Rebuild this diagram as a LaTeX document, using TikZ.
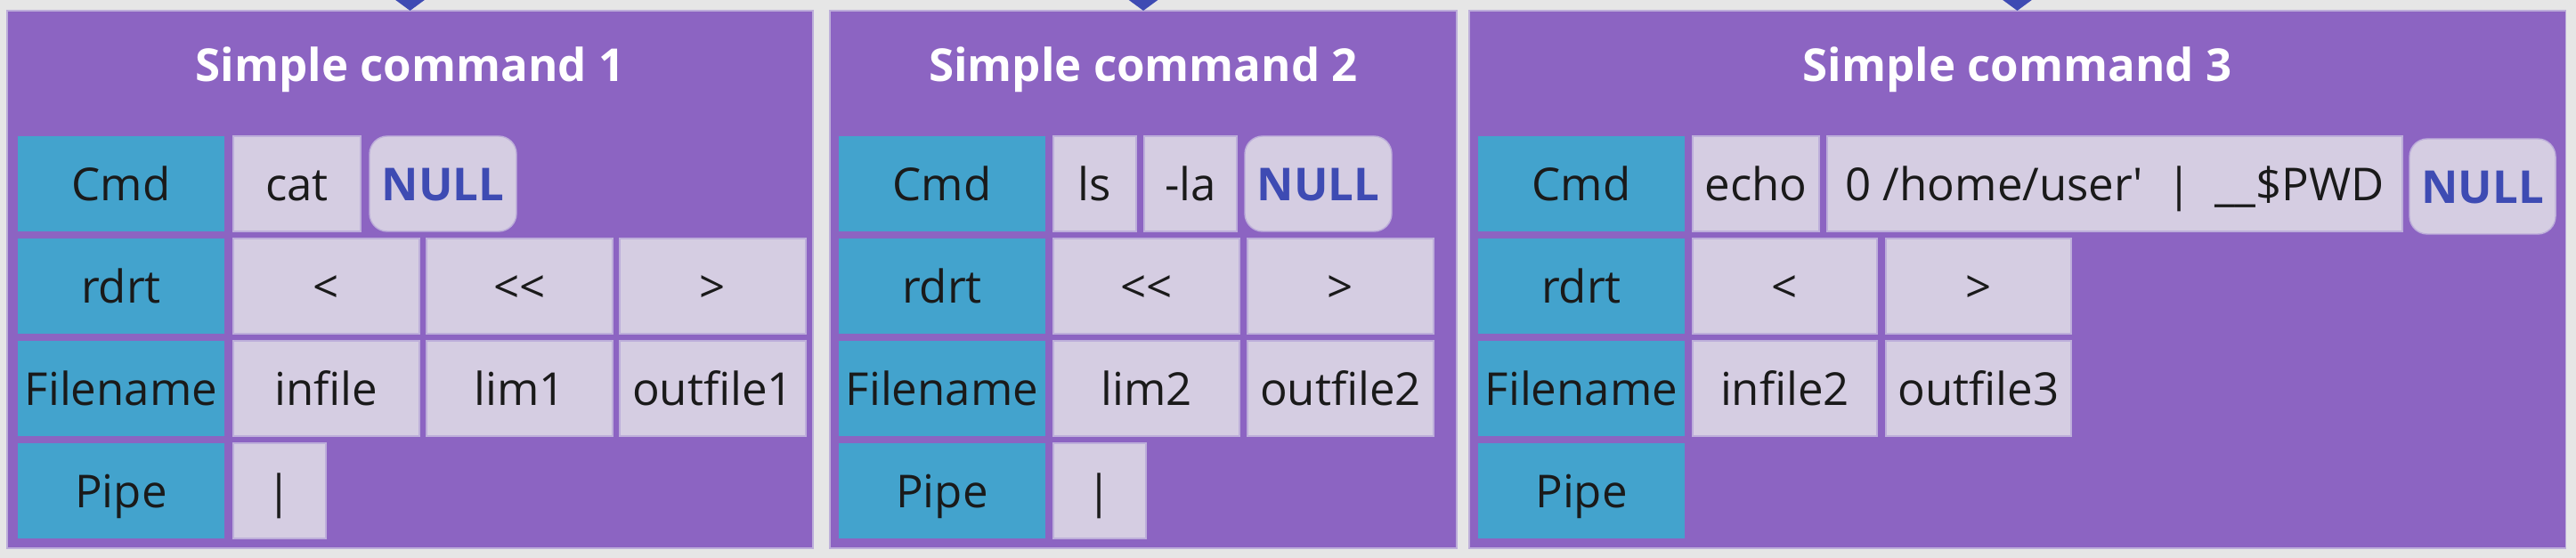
\documentclass[tikz,border=0pt]{standalone}
\usepackage{fontspec}
\setmainfont{Open Sans}
\usetikzlibrary{arrows.meta,positioning}
\definecolor{bggrey}{HTML}{E6E6E6}
\definecolor{panelpurple}{HTML}{8C64C2}
\definecolor{labelblue}{HTML}{43A3CD}
\definecolor{celllilac}{HTML}{D5CDE2}
\definecolor{cellrim}{HTML}{BDAEDA}
\definecolor{nullblue}{HTML}{3E4BB3}
\definecolor{ink}{HTML}{1A1A1A}

\begin{document}
\begin{tikzpicture}[font=\fontsize{14.5}{17}\selectfont, node distance=0.08cm and 0.09cm,
  panel/.style={fill=panelpurple, draw=cellrim, line width=0.3pt, anchor=north west, minimum height=6.04cm, inner sep=0pt, outer sep=0pt},
  title/.style={text=white, font=\fontsize{14.5}{17}\selectfont\bfseries},
  lab/.style={fill=labelblue, text=ink, minimum width=2.32cm, minimum height=1.07cm, text height=0.5cm, text depth=0.12cm, inner sep=0pt, outer sep=0pt},
  cell/.style={fill=celllilac, draw=cellrim, line width=0.4pt, text=ink, minimum height=1.07cm, text height=0.5cm, text depth=0.12cm, inner sep=0pt, outer sep=0pt},
  nullcell/.style={cell, rounded corners=0.2cm, text=nullblue, font=\fontsize{14.5}{17}\selectfont\bfseries, minimum width=1.65cm},
  link/.style={draw=nullblue, line width=1.5pt, -{Triangle[length=0.15cm, width=0.4cm]}}]
\fill[bggrey] (0,0) rectangle (28.93,-6.27);
\useasboundingbox (0,0) rectangle (28.93,-6.27);

% simple command 1
\node[panel, minimum width=9.05cm] (p1) at (0.08,-0.12) {};
\node[title] (t1) at ([yshift=-0.66cm]p1.north) {Simple command 1};
\node[lab, anchor=north west] (cmd1) at (0.20,-1.53) {Cmd};
\node[lab, below=of cmd1] (rdrt1) {rdrt};
\node[lab, below=of rdrt1] (file1) {Filename};
\node[lab, below=of file1] (pipe1) {Pipe};
\node[cell, right=0.1cm of cmd1, minimum width=1.43cm] (cat) {cat};
\node[nullcell, right=0.1cm of cat] (null1) {NULL};
\node[cell, right=0.1cm of rdrt1, minimum width=2.09cm] (in1) {<};
\node[cell, right=0.08cm of in1, minimum width=2.09cm] (here1) {<\kern0pt<};
\node[cell, right=0.08cm of here1, minimum width=2.09cm] (out1) {>};
\node[cell, right=0.1cm of file1, minimum width=2.09cm] (infile) {infile};
\node[cell, right=0.08cm of infile, minimum width=2.09cm] (lim1) {lim1};
\node[cell, right=0.08cm of lim1, minimum width=2.09cm] (outfile1) {outfile1};
\node[cell, right=0.1cm of pipe1, minimum width=1.04cm] (bar1) {|};

% simple command 2
\node[panel, minimum width=7.04cm] (p2) at (9.32,-0.12) {};
\node[title] (t2) at ([yshift=-0.66cm]p2.north) {Simple command 2};
\node[lab, anchor=north west] (cmd2) at (9.42,-1.53) {Cmd};
\node[lab, below=of cmd2] (rdrt2) {rdrt};
\node[lab, below=of rdrt2] (file2) {Filename};
\node[lab, below=of file2] (pipe2) {Pipe};
\node[cell, right=of cmd2, minimum width=0.93cm] (ls) {ls};
\node[cell, right=of ls, minimum width=1.04cm] (la) {-la};
\node[nullcell, right=of la] (null2) {NULL};
\node[cell, right=of rdrt2, minimum width=2.09cm] (here2) {<\kern0pt<};
\node[cell, right=of here2, minimum width=2.09cm] (out2) {>};
\node[cell, right=of file2, minimum width=2.09cm] (lim2) {lim2};
\node[cell, right=of lim2, minimum width=2.09cm] (outfile2) {outfile2};
\node[cell, right=of pipe2, minimum width=1.04cm] (bar2) {|};

% simple command 3
\node[panel, minimum width=12.31cm] (p3) at (16.50,-0.12) {};
\node[title] (t3) at ([yshift=-0.66cm]p3.north) {Simple command 3};
\node[lab, anchor=north west] (cmd3) at (16.60,-1.53) {Cmd};
\node[lab, below=of cmd3] (rdrt3) {rdrt};
\node[lab, below=of rdrt3] (file3) {Filename};
\node[lab, below=of file3] (pipe3) {Pipe};
\node[cell, right=of cmd3, minimum width=1.42cm] (echo) {echo};
\node[cell, right=of echo, minimum width=6.46cm] (arg) {0 /home/user\textquotesingle\ \ |\ \ \_\_\$PWD};
\node[nullcell, right=0.08cm of arg, minimum width=1.64cm, yshift=-0.03cm] (null3) {NULL};
\node[cell, right=of rdrt3, minimum width=2.07cm] (in3) {<};
\node[cell, right=0.1cm of in3, minimum width=2.08cm] (out3) {>};
\node[cell, right=of file3, minimum width=2.07cm] (infile2) {infile2};
\node[cell, right=0.1cm of infile2, minimum width=2.08cm] (outfile3) {outfile3};

% incoming links
\coordinate (from1) at ([yshift=0.6cm]p1.north);
\coordinate (from2) at ([yshift=0.6cm]p2.north);
\coordinate (from3) at ([yshift=0.6cm]p3.north);
\draw[link] (from1) -- (p1.north);
\draw[link] (from2) -- (p2.north);
\draw[link] (from3) -- (p3.north);
\end{tikzpicture}
\end{document}
